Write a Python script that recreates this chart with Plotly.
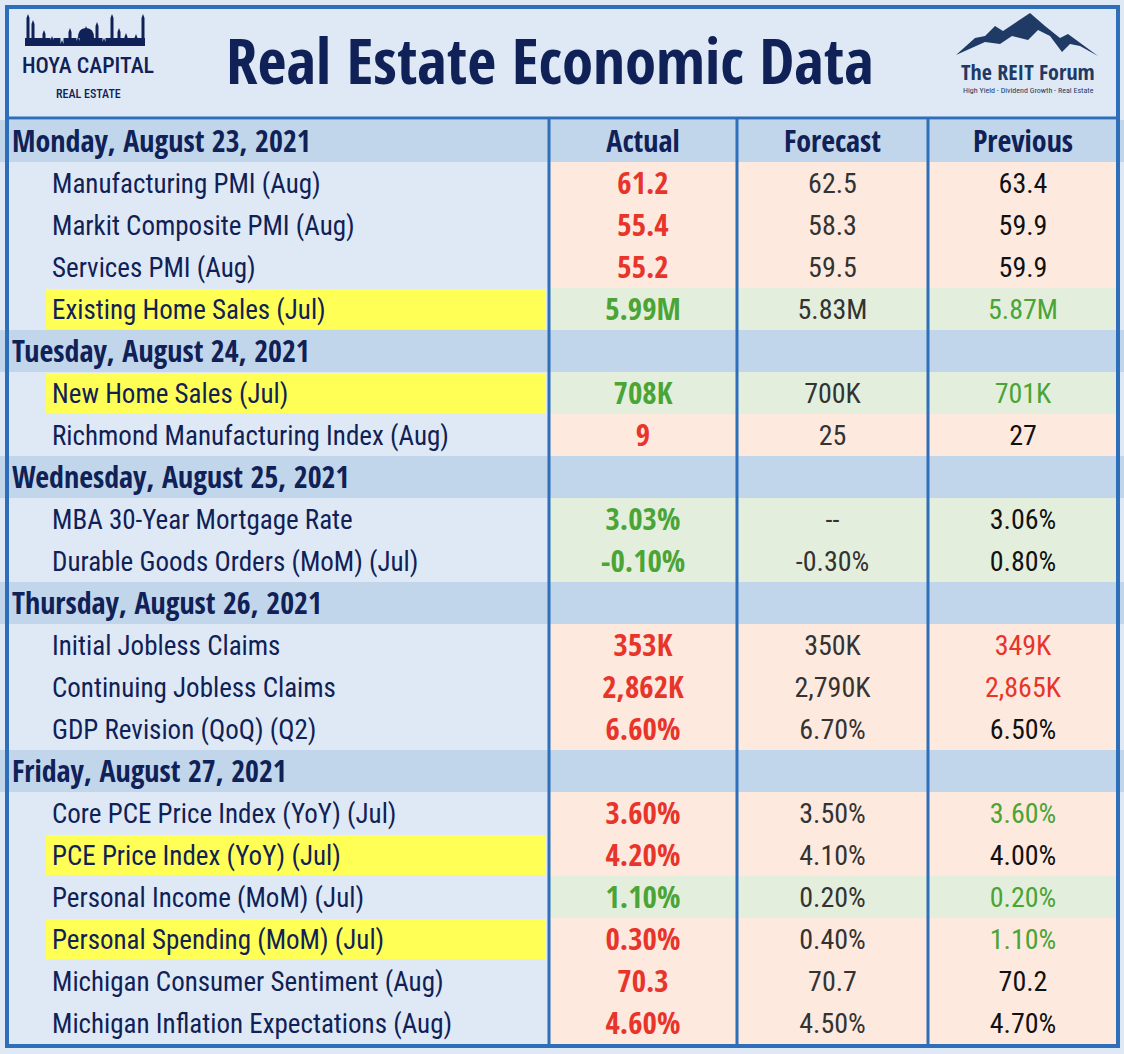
import plotly.graph_objects as go

# economic calendar, week of Aug 23 2021
day_headers = ["Monday, August 23, 2021", "Tuesday, August 24, 2021",
               "Wednesday, August 25, 2021", "Thursday, August 26, 2021",
               "Friday, August 27, 2021"]
day_counts = [4, 2, 2, 3, 6]

indicators = ["Manufacturing PMI (Aug)", "Markit Composite PMI (Aug)", "Services PMI (Aug)",
              "Existing Home Sales (Jul)",
              "New Home Sales (Jul)", "Richmond Manufacturing Index (Aug)",
              "MBA 30-Year Mortgage Rate", "Durable Goods Orders (MoM) (Jul)",
              "Initial Jobless Claims", "Continuing Jobless Claims", "GDP Revision (QoQ) (Q2)",
              "Core PCE Price Index (YoY) (Jul)", "PCE Price Index (YoY) (Jul)",
              "Personal Income (MoM) (Jul)", "Personal Spending (MoM) (Jul)",
              "Michigan Consumer Sentiment (Aug)", "Michigan Inflation Expectations (Aug)"]
actual = ["61.2", "55.4", "55.2", "5.99M", "708K", "9", "3.03%", "-0.10%",
          "353K", "2,862K", "6.60%", "3.60%", "4.20%", "1.10%", "0.30%", "70.3", "4.60%"]
forecast = ["62.5", "58.3", "59.5", "5.83M", "700K", "25", "--", "-0.30%",
            "350K", "2,790K", "6.70%", "3.50%", "4.10%", "0.20%", "0.40%", "70.7", "4.50%"]
previous = ["63.4", "59.9", "59.9", "5.87M", "701K", "27", "3.06%", "0.80%",
            "349K", "2,865K", "6.50%", "3.60%", "4.00%", "0.20%", "1.10%", "70.2", "4.70%"]
# "beat" = green row, "miss" = red row
result = ["miss", "miss", "miss", "beat", "beat", "miss", "beat", "beat",
          "miss", "miss", "miss", "miss", "miss", "beat", "miss", "miss", "miss"]
prev_tone = ["", "", "", "beat", "beat", "", "", "", "miss", "miss", "",
             "beat", "", "beat", "beat", "", ""]
highlighted = ["Existing Home Sales (Jul)", "New Home Sales (Jul)",
               "PCE Price Index (YoY) (Jul)", "Personal Spending (MoM) (Jul)"]
columns = ["Actual", "Forecast", "Previous"]

NAVY = "#0f2156"
PAPER = "#dfe9f5"
DAYBG = "#c2d6eb"
PEACH = "#fde9de"
MINT = "#e3efdc"
YELLOW = "#ffff55"
BORDER = "#2f6fba"
RED = "#e8352b"
GREEN = "#4aa436"
BOLD = "Open Sans Condensed, Roboto Condensed, sans-serif"
REG = "Roboto Condensed, DejaVu Sans Condensed, sans-serif"

W, H = 1124, 1054
TOP, ROW_H = 120, 42
col_edges = [549, 737, 928, 1118]
col_mid = [(col_edges[i] + col_edges[i + 1]) / 2 for i in range(3)]

# work out row slots: day header then its indicators
day_rows, item_rows = [], []
r = 0
for n in day_counts:
    day_rows.append(r)
    item_rows.extend(range(r + 1, r + 1 + n))
    r += 1 + n
n_rows = r


def y_mid(row):
    # +3 nudges the glyphs down to sit like the original
    return TOP + ROW_H * row + ROW_H / 2 + 3


shapes = []
# day header bands
for row in day_rows:
    y0 = TOP + ROW_H * row
    shapes.append(dict(type="rect", x0=0, x1=W, y0=y0, y1=y0 + ROW_H,
                       fillcolor=DAYBG, line_width=0, layer="below"))
# value cell fills and yellow highlights
for k, row in enumerate(item_rows):
    y0 = TOP + ROW_H * row
    shapes.append(dict(type="rect", x0=col_edges[0], x1=col_edges[3], y0=y0, y1=y0 + ROW_H,
                       fillcolor=MINT if result[k] == "beat" else PEACH,
                       line_width=0, layer="below"))
    if indicators[k] in highlighted:
        shapes.append(dict(type="rect", x0=46, x1=col_edges[0] - 3, y0=y0 + 1, y1=y0 + ROW_H - 1,
                           fillcolor=YELLOW, line_width=0, layer="below"))
bottom = TOP + ROW_H * n_rows
# column rules, header rule, outer frame
for x in col_edges[:3]:
    shapes.append(dict(type="line", x0=x, x1=x, y0=TOP - 2, y1=bottom + 2,
                       line=dict(color=BORDER, width=3)))
shapes.append(dict(type="line", x0=6, x1=1118, y0=TOP - 2, y1=TOP - 2,
                   line=dict(color=BORDER, width=3)))
shapes.append(dict(type="rect", x0=7, x1=1118, y0=7, y1=bottom + 2,
                   line=dict(color=BORDER, width=4)))

# Hoya Capital skyline
spires = [(28, 14), (33, 20), (44, 30), (52, 36), (62, 40), (70, 28), (78, 37),
          (86, 26), (97, 22), (104, 38), (112, 14), (119, 28), (126, 33), (136, 34), (143, 14)]
sky = "M 25 46 L 25 38 "
for sx, sh in spires:
    sky += f"L {sx - 1.5} 38 L {sx - 1.5} {sh + 4} L {sx} {sh} L {sx + 1.5} {sh + 4} L {sx + 1.5} 38 "
sky += "L 145 38 L 145 46 Z"
shapes.append(dict(type="path", path=sky, fillcolor=NAVY, line_width=0))
shapes.append(dict(type="path", path="M 78 38 Q 78 28 86 28 Q 94 28 94 38 Z",
                   fillcolor=NAVY, line_width=0))
# REIT Forum mountains
shapes.append(dict(type="path",
                   path="M 956 55 L 975 38 L 985 36 L 995 26 L 1003 31 L 1030 13 L 1045 26 "
                        "L 1060 38 L 1068 34 L 1098 56 L 1080 46 L 1070 44 L 1062 52 "
                        "L 1050 36 L 1038 30 L 1028 40 L 1012 36 L 1000 44 L 985 42 Z",
                   fillcolor="#1f3a64", line_width=0))

fig = go.Figure()

# day headers
fig.add_trace(go.Scatter(
    x=[12] * len(day_rows), y=[y_mid(r) for r in day_rows], text=day_headers,
    mode="text", textposition="middle right",
    textfont=dict(family=BOLD, size=30, color=NAVY, weight="bold"),
    hoverinfo="skip"))
# indicator names
fig.add_trace(go.Scatter(
    x=[52] * len(item_rows), y=[y_mid(r) for r in item_rows], text=indicators,
    mode="text", textposition="middle right",
    textfont=dict(family=REG, size=27, color=NAVY),
    hoverinfo="skip"))
# column titles on the Monday band
fig.add_trace(go.Scatter(
    x=col_mid, y=[y_mid(day_rows[0])] * 3, text=columns, mode="text",
    textfont=dict(family=BOLD, size=30, color=NAVY, weight="bold"),
    hoverinfo="skip"))
# actual
fig.add_trace(go.Scatter(
    x=[col_mid[0]] * len(actual), y=[y_mid(r) for r in item_rows], text=actual,
    mode="text",
    textfont=dict(family=BOLD, size=31, weight="bold",
                  color=[GREEN if t == "beat" else RED for t in result]),
    hoverinfo="skip"))
# forecast
fig.add_trace(go.Scatter(
    x=[col_mid[1]] * len(forecast), y=[y_mid(r) for r in item_rows], text=forecast,
    mode="text", textfont=dict(family=REG, size=28, color="#333333"),
    hoverinfo="skip"))
# previous
tone_col = {"beat": GREEN, "miss": RED, "": "#111111"}
fig.add_trace(go.Scatter(
    x=[col_mid[2]] * len(previous), y=[y_mid(r) for r in item_rows], text=previous,
    mode="text", textfont=dict(family=REG, size=28, color=[tone_col[t] for t in prev_tone]),
    hoverinfo="skip"))

annotations = [
    dict(x=550, y=59, text="<b>Real Estate Economic Data</b>", showarrow=False,
         font=dict(family=BOLD, size=63, color=NAVY)),
    dict(x=88, y=65, text="HOYA CAPITAL", showarrow=False,
         font=dict(family=REG, size=22, color=NAVY, weight=500)),
    dict(x=88, y=94, text="REAL ESTATE", showarrow=False,
         font=dict(family=REG, size=12, color=NAVY, weight=500)),
    dict(x=1028, y=71, text="<b>The REIT Forum</b>", showarrow=False,
         font=dict(family=BOLD, size=22, color="#1f3a64")),
    dict(x=1028, y=90, text="High Yield - Dividend Growth - Real Estate", showarrow=False,
         font=dict(family=REG, size=8, color="#1f3a64")),
]

fig.update_layout(
    width=W, height=H,
    margin=dict(l=0, r=0, t=0, b=0),
    paper_bgcolor=PAPER, plot_bgcolor=PAPER,
    showlegend=False,
    shapes=shapes, annotations=annotations,
    xaxis=dict(range=[0, W], visible=False, fixedrange=True),
    yaxis=dict(range=[H, 0], visible=False, fixedrange=True),
)

fig.write_html("out.html", config={"displayModeBar": False},
               post_script="document.body.style.margin='0';")
